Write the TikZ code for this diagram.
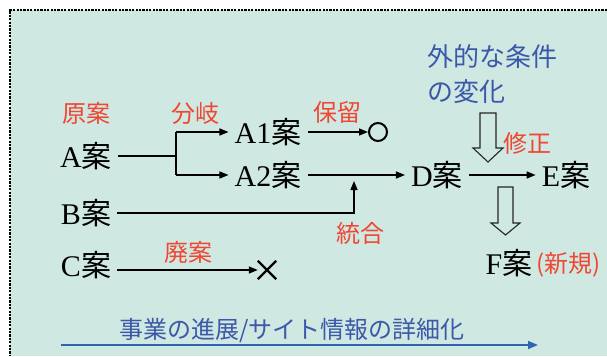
\documentclass[tikz,border=0pt]{standalone}
\usepackage{fontspec}
\setmainfont{Liberation Serif}
\newfontfamily\jpfont{Noto Sans CJK JP}
\usetikzlibrary{arrows.meta,shapes.misc}
\definecolor{bgteal}{RGB}{207,232,226}
\definecolor{labelred}{RGB}{240,70,50}
\definecolor{noteblue}{RGB}{60,88,168}
\definecolor{linkblue}{RGB}{50,100,180}
\newcommand\plan[1]{#1{\jpfont 案}}
\tikzset{
	plan/.style={font=\fontsize{30}{36}\selectfont, inner xsep=6pt, inner ysep=2pt},
	redlbl/.style={text=labelred, font=\jpfont\fontsize{24}{28}\selectfont},
	bluelbl/.style={text=noteblue, font=\jpfont\fontsize{26}{35}\selectfont, align=left},
	flow/.style={-{Triangle[length=9pt,width=7pt]}, line width=1.4pt},
	hollow/.style={draw=black!85, fill=bgteal, line width=1.1pt}
}
\begin{document}
\begin{tikzpicture}[x=1pt, y=-1pt]
				\useasboundingbox (0,0) rectangle (607,356);
				\fill[white] (0,0) rectangle (607,356);
				\fill[bgteal] (10,10) rectangle (607,356);
				\draw[line width=2.2pt, dash pattern=on 2.2pt off 1.2pt] (607,10) -- (10,10) -- (10,356);
				% plans
				\node[plan] (A) at (86,156) {\plan{A}};
				\node[plan] (B) at (86,213) {\plan{B}};
				\node[plan] (C) at (86,265) {\plan{C}};
				\node[plan] (A1) at (268,132) {\plan{A1}};
				\node[plan] (A2) at (268,175) {\plan{A2}};
				\node[plan] (D) at (437,175) {\plan{D}};
				\node[plan] (E) at (566,175) {\plan{E}};
				\node[plan, inner xsep=0pt] (F) at (509,263) {\plan{F}};
				\node[draw, circle, line width=2pt, minimum size=18pt, inner sep=0pt] (hold) at (378,132) {};
				\node[cross out, draw, line width=2.4pt, minimum size=16pt, inner sep=0pt] (drop) at (267,270) {};
				% labels
				\node[redlbl] (orig) at (86,113) {原案};
				\node[redlbl] (split) at (195,113) {分岐};
				\node[redlbl] (keep) at (337,112) {保留};
				\node[redlbl] (fix) at (527,143) {修正};
				\node[redlbl] (merge) at (360,233) {統合};
				\node[redlbl] (abandon) at (188,252) {廃案};
				\node[redlbl, anchor=west, inner sep=0pt] (new) at (536,265) {(新規)};
				\node[bluelbl, anchor=west] (ext) at (424,74) {外的な条件\\の変化};
				\node[text=noteblue, font=\jpfont\fontsize{24}{28}\selectfont] (prog) at (292,331) {事業の進展/サイト情報の詳細化};
				% connectors
				\coordinate (br) at (176,156);
				\coordinate (brtop) at (176,132);
				\coordinate (brbot) at (176,175);
				\coordinate (join) at (354,181);
				\draw[line width=1.4pt] (A.east) -- (br);
				\draw[line width=1.4pt] (brtop) -- (brbot);
				\draw[flow] (brtop) -- (A1.west);
				\draw[flow] (brbot) -- (A2.west);
				\draw[flow] (A1.east) -- (hold.west);
				\draw[flow] (A2.east) -- (D.west);
				\draw[flow] (B.east) -| (join);
				\draw[flow] (D.east) -- (E.west);
				\draw[flow] (C.east |- drop) -- (drop.west);
				\coordinate (tl) at (61,345);
				\coordinate (tr) at (538,345);
				\draw[-{Triangle[length=10pt,width=8pt]}, line width=1.6pt, linkblue] (tl) -- (tr);
				% hollow arrows
				\draw[hollow] (480,113) -- (496,113) -- (496,148) -- (503,148) -- (488,162) -- (473,148) -- (480,148) -- cycle;
				\draw[hollow] (498,187) -- (513,187) -- (513,223) -- (520,223) -- (505.5,235) -- (491,223) -- (498,223) -- cycle;
\end{tikzpicture}
\end{document}
